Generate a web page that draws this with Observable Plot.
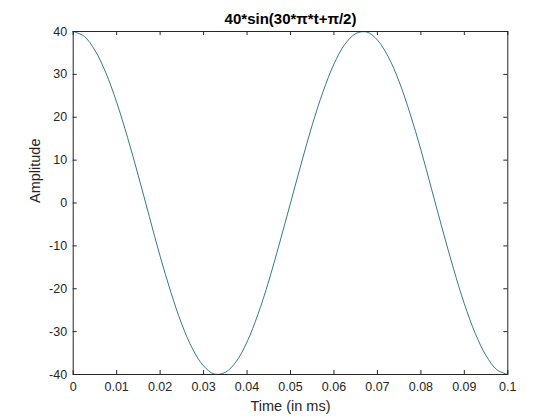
<!DOCTYPE html>
<html>
<head>
<meta charset="utf-8">
<script src="https://cdn.jsdelivr.net/npm/d3@7"></script>
<script src="https://cdn.jsdelivr.net/npm/@observablehq/plot@0.6"></script>
<style>
  html, body { margin: 0; padding: 0; background: #fff; }
  #chart svg { display: block; }
</style>
</head>
<body>
<div id="chart"></div>
<script>
const time = [0, 0.0025, 0.005, 0.0075, 0.01, 0.0125, 0.015, 0.0175, 0.02, 0.0225,
  0.025, 0.0275, 0.03, 0.0325, 0.035, 0.0375, 0.04, 0.0425, 0.045, 0.0475,
  0.05, 0.0525, 0.055, 0.0575, 0.06, 0.0625, 0.065, 0.0675, 0.07, 0.0725,
  0.075, 0.0775, 0.08, 0.0825, 0.085, 0.0875, 0.09, 0.0925, 0.095, 0.0975, 0.1];
const amplitude = [40, 38.9, 35.6, 30.4, 23.5, 15.3, 6.3, -3.1, -12.4, -20.9,
  -28.3, -34.1, -38.0, -39.9, -39.5, -37.0, -32.4, -26.0, -18.2, -9.3,
  0, 9.3, 18.2, 26.0, 32.4, 37.0, 39.5, 39.9, 38.0, 34.1,
  28.3, 20.9, 12.4, 3.1, -6.3, -15.3, -23.5, -30.4, -35.6, -38.9, -40];
const xTicks = [0, 0.01, 0.02, 0.03, 0.04, 0.05, 0.06, 0.07, 0.08, 0.09, 0.1];
const xTickLabels = ["0", "0.01", "0.02", "0.03", "0.04", "0.05", "0.06", "0.07", "0.08", "0.09", "0.1"];
const yTicks = [-40, -30, -20, -10, 0, 10, 20, 30, 40];
const yTickLabels = ["-40", "-30", "-20", "-10", "0", "10", "20", "30", "40"];
const title = "40*sin(30*π*t+π/2)";
const xLabel = "Time (in ms)";
const yLabel = "Amplitude";

const data = time.map((t, i) => ({t, a: amplitude[i]}));
const ink = "#262626";
const lineColor = "#317b8a";

const mL = 72.7, mR = 52.7, mT = 31, mB = 46;
const H = 420, W = 560;
const frameH = H - mT - mB, frameW = W - mL - mR;
const tl = 4;

const chart = Plot.plot({
  width: W,
  height: H,
  marginLeft: mL,
  marginRight: mR,
  marginTop: mT,
  marginBottom: mB,
  style: {fontFamily: "'Liberation Sans', Arial, Helvetica, sans-serif", color: ink, background: "#fff"},
  x: {domain: [0, 0.1], nice: false},
  y: {domain: [-40, 40], nice: false},
  marks: [
    Plot.line(data, {x: "t", y: "a", stroke: lineColor, strokeWidth: 1, curve: "catmull-rom"}),
    Plot.frame({stroke: ink, strokeWidth: 1}),
    Plot.tickX(xTicks, {x: d => d, stroke: ink, insetTop: frameH - tl}),
    Plot.tickX(xTicks, {x: d => d, stroke: ink, insetBottom: frameH - tl}),
    Plot.tickY(yTicks, {y: d => d, stroke: ink, insetRight: frameW - tl}),
    Plot.tickY(yTicks, {y: d => d, stroke: ink, insetLeft: frameW - tl}),
    Plot.axisX(xTicks, {tickSize: 0, tickPadding: 8, fontSize: 12.5, tickFormat: (d, i) => xTickLabels[i], label: null}),
    Plot.axisY(yTicks, {tickSize: 0, tickPadding: 6, fontSize: 12.5, tickFormat: (d, i) => yTickLabels[i], label: null}),
    Plot.text([title], {frameAnchor: "top", dy: -12.5, text: d => d, fontWeight: "bold", fontSize: 15, lineAnchor: "middle", fill: "#000"}),
    Plot.text([xLabel], {frameAnchor: "bottom", dy: 32, text: d => d, fontSize: 14.5, lineAnchor: "middle", fill: ink}),
    Plot.text([yLabel], {frameAnchor: "left", dx: -37.5, rotate: -90, text: d => d, fontSize: 14.5, lineAnchor: "middle", fill: ink})
  ]
});
document.getElementById("chart").append(chart);
</script>
</body>
</html>
